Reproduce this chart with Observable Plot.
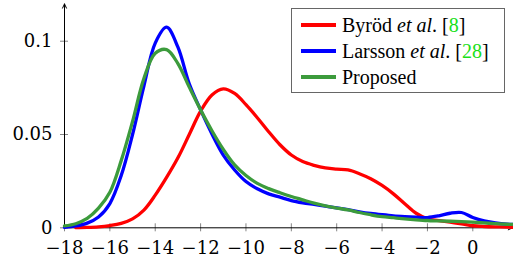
<!DOCTYPE html>
<html><head><meta charset="utf-8">
<script src="https://cdn.jsdelivr.net/npm/d3@7"></script>
<script src="https://cdn.jsdelivr.net/npm/@observablehq/plot@0.6"></script>
<style>
body{margin:0;background:#fff;}
#wrap{position:relative;width:513px;height:260px;}
#legend{position:absolute;left:291px;top:8px;width:214px;height:85px;border:1px solid #666;background:#fff;box-sizing:border-box;font-size:20px;color:#000;}
.serif, #legend, svg text{font-family:"DejaVu Serif","Liberation Serif","Noto Serif","Times New Roman",Times,"Nimbus Roman","FreeSerif",serif;}
#legend{font-family:"Liberation Serif","Noto Serif","Times New Roman",Times,"Nimbus Roman","FreeSerif","DejaVu Serif",serif;}
.row{position:absolute;left:0;height:26px;width:100%;}
.sw{position:absolute;left:9px;top:11px;width:35px;height:4px;}
.lab{position:absolute;left:50px;top:0;line-height:26px;white-space:nowrap;}
.cite{color:#18e018;}
</style></head>
<body><div id="wrap"></div>
<script>
const xs = [-18,-17.5,-17,-16.5,-16,-15.5,-15,-14.5,-14,-13.5,-13,-12.5,-12,-11.5,-11,-10.5,-10,-9.5,-9,-8.5,-8,-7.5,-7,-6.5,-6,-5.5,-5,-4.5,-4,-3.5,-3,-2.5,-2,-1.5,-1,-0.5,0,0.5,1,1.5,1.75];
const byrod = [null,0.0001,0.0002,0.0005,0.0012,0.0024,0.0048,0.0095,0.0175,0.027,0.0375,0.05,0.0625,0.0712,0.0745,0.072,0.066,0.059,0.0515,0.0445,0.039,0.0355,0.0335,0.0321,0.0314,0.031,0.029,0.0263,0.0227,0.0182,0.0129,0.0078,0.0048,0.0039,0.003,0.0021,0.0011,0.0007,0.0005,0.0004,0.0003];
const larsson = [0.0003,0.001,0.0025,0.0058,0.013,0.028,0.05,0.076,0.099,0.1075,0.0968,0.0772,0.0632,0.0503,0.039,0.031,0.0248,0.0209,0.0182,0.0164,0.0146,0.0134,0.0125,0.0116,0.0107,0.0097,0.0086,0.0077,0.007,0.0064,0.006,0.0057,0.0055,0.0064,0.0078,0.0082,0.0055,0.0037,0.0027,0.002,0.0018];
const proposed = [0.001,0.0022,0.005,0.0105,0.019,0.036,0.057,0.08,0.0935,0.0955,0.088,0.0754,0.0632,0.052,0.042,0.0337,0.028,0.0238,0.021,0.0188,0.0168,0.015,0.0132,0.0117,0.0106,0.0096,0.0082,0.007,0.006,0.0054,0.0048,0.0043,0.0039,0.0037,0.0035,0.0033,0.003,0.0026,0.0022,0.0019,0.0018];
const seriesNames = ["Byröd", "Larsson", "Proposed"];
const seriesEtAl = [true, true, false];
const seriesCites = ["8", "28", ""];
const seriesColors = ["#ff0000", "#0000ff", "#3c9b3c"];
const xTicks = [-18,-16,-14,-12,-10,-8,-6,-4,-2,0];
const yTicks = [0,0.05,0.1];
const xDomain = [-18, 1.75];
const yDomain = [0, 0.12];

const allSeries = [byrod, larsson, proposed];
const fmtX = d => d < 0 ? "\u2212" + Math.abs(d) : String(d);
const fmtY = d => String(d);
const serif = "'DejaVu Serif', 'Liberation Serif', 'Noto Serif', 'Times New Roman', Times, serif";

const lineMarks = allSeries.map((vals, si) =>
  Plot.line(xs.map((x, i) => ({x, y: vals[i]})).filter(d => d.y != null), {
    x: "x", y: "y", stroke: seriesColors[si], strokeWidth: 3.3, curve: "catmull-rom"
  })
);

const chart = Plot.plot({
  width: 513, height: 260,
  marginLeft: 64, marginRight: 1, marginTop: 3.4, marginBottom: 32.7,
  x: {domain: xDomain},
  y: {domain: yDomain},
  style: {fontFamily: serif, fontSize: "18px", background: "white", color: "black"},
  marks: [
    Plot.axisX({ticks: xTicks, tickSize: 8, dy: -4, tickFormat: () => "", label: null, stroke: "#666", strokeWidth: 0.8}),
    Plot.axisY({ticks: yTicks, tickSize: 8, dx: 4, tickFormat: () => "", label: null, stroke: "#666", strokeWidth: 0.8}),
    Plot.axisX({ticks: xTicks, tickSize: 0, tickPadding: 13, tickFormat: fmtX, label: null, fontSize: 18}),
    Plot.axisY({ticks: yTicks, tickSize: 0, tickPadding: 12, tickFormat: fmtY, label: null, fontSize: 18}),
    Plot.arrow([0], {x1: () => xDomain[0], x2: () => xDomain[1], y1: () => yDomain[0], y2: () => yDomain[0], bend: 0, headLength: 7, headAngle: 50, stroke: "black", strokeWidth: 1}),
    Plot.arrow([0], {x1: () => xDomain[0], x2: () => xDomain[0], y1: () => yDomain[0], y2: () => yDomain[1], bend: 0, headLength: 7, headAngle: 50, stroke: "black", strokeWidth: 1}),
    ...lineMarks
  ]
});

const wrap = document.getElementById("wrap");
wrap.appendChild(chart);
const legend = document.createElement("div");
legend.id = "legend";
seriesNames.forEach((name, i) => {
  const row = document.createElement("div");
  row.className = "row";
  row.style.top = (3 + i * 25.8) + "px";
  const sw = document.createElement("div");
  sw.className = "sw";
  sw.style.background = seriesColors[i];
  const lab = document.createElement("div");
  lab.className = "lab";
  let html = name;
  if (seriesEtAl[i]) html += " <i>et al</i>.";
  if (seriesCites[i]) html += " [<span class='cite'>" + seriesCites[i] + "</span>]";
  lab.innerHTML = html;
  row.appendChild(sw);
  row.appendChild(lab);
  legend.appendChild(row);
});
wrap.appendChild(legend);
</script>
</body></html>
